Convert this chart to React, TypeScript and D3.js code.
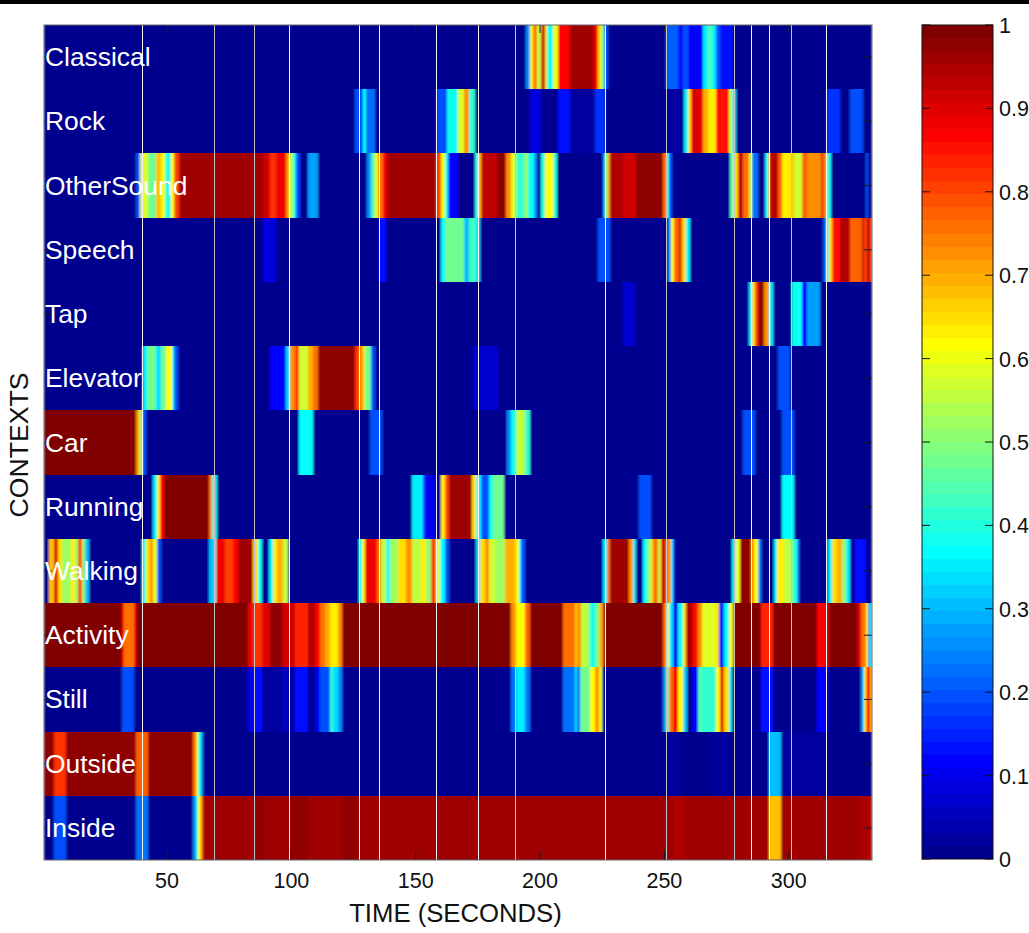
import * as d3 from "d3";

const WIDTH = 1029;
const HEIGHT = 933;

// each row is a step series: [time in seconds, value held until the next entry]
const classical = [[0.5,0],[194.4,.25],[196,.6],[197.1,.75],[198.7,.55],[200.2,.92],[201.8,.65],[202.7,.38],[205.3,.6],[207.2,.87],[212.1,.96],[221.6,.87],[223.4,.65],[224.6,.5],[225.6,.2],[227.2,0],[250.7,.21],[255.4,.13],[257.6,.2],[259.4,.12],[265.7,.35],[267.4,.45],[269,.35],[270.8,.2],[272.5,.13],[277.7,0]];
const rock = [[0.5,0],[125.5,.2],[128.6,.38],[130.2,.22],[133.5,0],[158.6,.2],[162.6,.38],[167,.58],[169.3,.72],[171.4,.42],[173.7,0],[195.8,.09],[200.2,0],[207.3,.13],[212.1,.03],[221.9,.16],[226.2,0],[250.7,.03],[256.4,.03],[257.8,.35],[259.4,.65],[260.7,.9],[265.7,.7],[267.4,.63],[270.8,.85],[275.8,.55],[277.2,.35],[278.8,0],[315.6,.17],[320.5,0],[324.6,.2],[329.7,0]];
const otherSound = [[0.5,0],[37.6,.2],[39.2,.58],[42.2,.48],[45.5,.68],[47.5,.6],[49.2,.4],[51.6,.62],[52.8,.8],[54.6,.965],[88.4,.92],[91.4,.82],[93.8,.88],[97.7,.72],[99.1,.55],[100.7,.38],[101.8,.18],[103.4,0],[106.5,.27],[110.8,0],[130.5,.25],[132.2,.45],[133.5,.6],[135,.75],[136.9,.88],[138.5,.965],[158.3,.8],[160.3,.6],[161.6,.38],[162.9,.12],[167,0],[173.7,.4],[175,.68],[176.4,.93],[182.7,.97],[186.4,.72],[188.4,.58],[190.4,.42],[193.4,.5],[195.1,.38],[197.4,.25],[198.7,0],[200.5,.4],[201.8,.62],[205.1,.42],[206.8,0],[225.2,.25],[226.2,.5],[227.2,.72],[228.2,.95],[233.3,.92],[238.4,.97],[249.6,.75],[250.9,.38],[252,.2],[253,0],[276.4,.45],[277.7,.65],[279.6,.93],[281.5,.75],[283.9,.55],[285.2,.22],[287.5,0],[290.4,.35],[291.5,.6],[292.2,.92],[293.8,.95],[295.5,.77],[297.5,.63],[301.5,.7],[302.2,.57],[305.5,.78],[307.3,.73],[312.9,.92],[313.8,.74],[315.6,.38],[316.9,0],[331,.2],[331.7,0]];
const speech = [[0.5,0],[88.7,.08],[93.8,0],[135.1,.13],[138.2,0],[160.3,.36],[161.7,.47],[169.3,.3],[171.4,.43],[174.4,.33],[176,0],[223.5,.2],[228.3,0],[251.3,.25],[252.7,.62],[254,.78],[256,.9],[257,.65],[258.7,.35],[260.5,0],[313.6,.2],[315,.4],[316.3,.65],[317.6,.85],[320.7,.95],[324.6,.78],[329.4,.93],[330.3,.8],[331.4,.93],[332.6,.8]];
const tap = [[0.5,0],[233.3,.07],[238.2,0],[283.9,.35],[285.2,.65],[286.5,.8],[287.5,.97],[290.2,.72],[292.2,.35],[293.5,0],[301.5,.38],[305.5,.12],[307.5,.27],[312.5,0]];
const elevator = [[0.5,0],[40.2,.35],[41.8,.48],[45.5,.33],[47.5,.48],[49.6,.62],[51.9,.35],[52.8,.2],[54.2,0],[91.4,.12],[97.8,.33],[99.4,.72],[101.4,.82],[103.2,.57],[106.8,.7],[108.8,.75],[110.8,.97],[125.5,.82],[127.2,.72],[128.6,.63],[129.5,.47],[132.2,.2],[133.5,0],[173,.07],[183,0],[295.5,.2],[300.5,0]];
const car = [[0.5,.985],[37.4,.73],[38.8,.55],[39.8,.2],[41.6,0],[103.2,.37],[108.5,0],[131.8,.2],[136.6,0],[186.7,.25],[188.4,.38],[190.2,.55],[193.8,.42],[196,0],[281.7,.2],[286.5,0],[297.5,.2],[302.2,0]];
const running = [[0.5,0],[44.5,.35],[45.9,.63],[47.2,.87],[48.8,.985],[67,.75],[68.2,.38],[70,0],[148.7,.35],[153,.15],[154.3,.1],[158,0],[160.3,.63],[161.7,.8],[163.4,.96],[172.8,.65],[174.1,.37],[176.4,.2],[179.5,.38],[181,.47],[185.5,0],[239.7,.2],[244.6,0],[297.3,.37],[302,0]];
const walking = [[0.5,0],[2.6,.68],[4.6,.9],[6.1,.65],[7.7,.52],[11.4,.63],[12.8,.5],[14,.8],[15.7,.5],[17.1,.3],[18.4,0],[40.1,.4],[41.6,.65],[43.2,.72],[44.5,.58],[46.1,.2],[47.5,0],[67,.3],[68.6,.35],[69.7,.88],[73.3,.8],[76.4,.87],[78.7,.96],[84.7,.65],[86.7,.38],[88,0],[91.1,.35],[92.7,.63],[94.3,.7],[96.5,.55],[98.5,0],[127.2,.38],[128.2,.63],[129.5,.88],[134.5,.75],[136.2,.55],[138,.38],[139.6,.52],[142.9,.65],[145.9,.72],[148.3,.55],[152.3,.63],[154.3,.5],[156.3,.8],[158,.6],[159.6,.37],[161.6,.2],[163.4,0],[174.4,.33],[176,.65],[177.7,.72],[179.3,.57],[181.7,.53],[186,.7],[189.8,.63],[191.5,.37],[192.4,.2],[193.8,0],[225.2,.35],[227,.75],[228.3,.96],[235.9,.72],[237.5,.35],[238.6,0],[241.3,.37],[242.9,.5],[244.6,.65],[245.6,.76],[247.6,.55],[248.7,.9],[250.7,.72],[252.7,.35],[253.4,.15],[254.4,0],[277.2,.37],[278.8,.6],[280.4,.97],[284.8,.72],[286.1,.62],[287.5,.25],[288.8,0],[293.9,.35],[295.2,.63],[298.2,.55],[301.3,.42],[303.2,.25],[304.2,0],[316,.35],[317.6,.65],[319.6,.7],[321.6,.5],[323.2,.35],[324.6,0],[326.6,.13],[331,0]];
const activity = [[0.5,.985],[31.8,.85],[32.5,.76],[36.5,.87],[37.6,.985],[82.7,.88],[84.7,.82],[88,.9],[91.4,.97],[96.3,.91],[98.7,.92],[101.4,.83],[106.5,.95],[109.4,.87],[111.4,.75],[113.5,.7],[115.5,.63],[118.8,.73],[120.2,.985],[188.4,.73],[190.4,.62],[193.8,.77],[195.8,.985],[209.4,.75],[213.9,.66],[214.8,.72],[216.5,.55],[219.2,.5],[220.2,.38],[221.9,.48],[223.6,.7],[225.5,.985],[249.3,.77],[250.7,.62],[252,.35],[253.6,.13],[255.6,.38],[257.6,.65],[258.7,.95],[261.4,.85],[263.6,.72],[265,.58],[270.8,.65],[272.1,.15],[273.8,.37],[275.8,.62],[277.4,.985],[288.8,.83],[293.5,.985],[311.3,.87],[315,.9],[316.3,.985],[327.6,.92],[328.9,.76],[331,.62],[331.7,.2],[332.7,.4]];
const still = [[0.5,0],[31.8,.2],[36.8,0],[82.7,.1],[84.7,.14],[88,.03],[96.3,.05],[98.7,.02],[101.4,.14],[106.5,0],[109.4,.1],[111.4,.2],[115.5,.42],[116.8,.33],[118.8,.25],[120.2,0],[188.4,.22],[190.4,.35],[193.8,.22],[195.8,0],[209.4,.22],[213.9,.35],[214.8,.2],[216.1,.47],[219.9,.62],[221.9,.72],[223.6,.6],[225,0],[249.3,.25],[250.7,.45],[252,.75],[253.3,.87],[255.6,.62],[257.6,.32],[259,0],[261.1,.12],[263.6,.45],[265,.42],[270.8,.62],[272.4,.9],[273.8,.65],[275.8,.35],[277.2,0],[288.8,.13],[293.5,0],[311.3,.12],[315,.07],[316.3,0],[329,.28],[330.3,.62],[331.2,.85],[332.6,.7]];
const outside = [[0.5,.97],[4.6,.82],[9.4,.97],[37.4,.77],[42.2,.97],[60.6,.75],[61.6,.63],[62.6,.4],[63.7,.25],[64.6,0],[250.7,.02],[256,.01],[270,.02],[276,0],[292.2,.31],[296.9,.02],[315,.01]];
const inside = [[0.5,0],[4.6,.2],[9.3,0],[37.4,.22],[42.5,0],[60.6,.25],[61.6,.4],[62.6,.63],[63.7,.77],[64.6,.955],[86,.975],[89,.965],[99.4,.975],[106.7,.965],[120.7,.975],[126.3,.965],[254,.95],[258,.965],[292.2,.675],[296.9,.965],[329,.95]];

const contexts = ["Classical","Rock","OtherSound","Speech","Tap","Elevator","Car","Running","Walking","Activity","Still","Outside","Inside"];
const rows = [classical,rock,otherSound,speech,tap,elevator,car,running,walking,activity,still,outside,inside];

// event boundaries drawn across the whole plot
const boundaries = [40.1,68.9,84.8,99.1,127.2,135.1,158.2,175,190,226.2,250.8,278.1,284.7,291.9,301.1,314.9];
const boundaryDim = [68.9,84.8,190,250.8,278.1,301.1];

const timeTicks = [50,100,150,200,250,300];
const barTicks = [0,.1,.2,.3,.4,.5,.6,.7,.8,.9,1];
const barLabels = ["0","0.1","0.2","0.3","0.4","0.5","0.6","0.7","0.8","0.9","1"];

const FONT = "'Liberation Sans', Arial, sans-serif";
const T_MIN = 0.5;
const T_MAX = 333.5;

// MATLAB jet(64)
function jet(i: number) {
  const v = i / 64;
  const c = (a: number) => Math.round(Math.max(0, Math.min(1, a)) * 255);
  const r = c(Math.min(4 * v - 1.5, -4 * v + 4.5));
  const g = c(Math.min(4 * v - 0.5, -4 * v + 3.5));
  const b = c(Math.min(4 * v + 0.5, -4 * v + 2.5));
  return `rgb(${r},${g},${b})`;
}

export default function App() {
  const x = d3.scaleLinear().domain([T_MIN, T_MAX]).range([44, 872]);
  const y = d3.scaleBand<string>().domain(contexts).range([25, 860]);
  const barY = d3.scaleLinear().domain([0, 1]).range([859, 25]);
  const color = d3.scaleQuantize<string>().domain([0, 1]).range(d3.range(1, 65).map(jet));
  const levels = d3.range(0, 64).map((i) => i / 64);
  const bh = y.bandwidth();

  return (
    <svg
      width={WIDTH}
      height={HEIGHT}
      style={{ position: "absolute", left: 0, top: 0, background: "#fff" }}
      fontFamily={FONT}
    >
      <defs>
        {/* the source is a resampled bitmap, its colour steps are soft */}
        <filter id="soft" x="0" y="0" width="1" height="1">
          <feGaussianBlur stdDeviation="0.8 0.3" />
        </filter>
        <clipPath id="plot">
          <rect x={44} y={25} width={828} height={835} />
        </clipPath>
      </defs>

      <rect x={0} y={0} width={WIDTH} height={4} fill="#000" />

      <g clipPath="url(#plot)">
        <g shapeRendering="crispEdges" filter="url(#soft)">
          {rows.map((row, r) =>
            row.map(([t, v], i) => {
              const next = i + 1 < row.length ? row[i + 1][0] : T_MAX;
              return (
                <rect
                  key={`${r}-${i}`}
                  x={x(t)}
                  y={y(contexts[r])}
                  width={x(next) - x(t)}
                  height={bh}
                  fill={color(v)}
                />
              );
            })
          )}
        </g>
      </g>

      {boundaries.map((t) => (
        <line
          key={t}
          x1={Math.round(x(t)) + 0.5}
          x2={Math.round(x(t)) + 0.5}
          y1={25}
          y2={860}
          stroke={boundaryDim.includes(t) ? "#c4c4c4" : "#f4f4f4"}
          strokeWidth={1}
        />
      ))}

      {/* inward ticks */}
      {timeTicks.map((t) => (
        <g key={t} stroke="#1a1a2a" strokeWidth={1}>
          <line x1={x(t)} x2={x(t)} y1={860} y2={851} />
          <line x1={x(t)} x2={x(t)} y1={25} y2={33} />
        </g>
      ))}
      {contexts.map((c) => {
        const cy = y(c)! + bh / 2;
        return (
          <g key={c} stroke="#1a1a2a" strokeWidth={1}>
            <line x1={44} x2={52} y1={cy} y2={cy} />
            <line x1={872} x2={864} y1={cy} y2={cy} />
          </g>
        );
      })}
      <rect x={44} y={25} width={828} height={835} fill="none" stroke="#666" strokeWidth={1} />

      {contexts.map((c) => (
        <text key={c} x={45} y={y(c)! + bh / 2 + 9} fill="#fff" fontSize={26.4}>
          {c}
        </text>
      ))}

      {timeTicks.map((t) => (
        <text key={t} x={x(t)} y={888} textAnchor="middle" fontSize={21.5} fill="#111">
          {t}
        </text>
      ))}
      <text x={455.5} y={922} textAnchor="middle" fontSize={25.7} fill="#111">
        TIME (SECONDS)
      </text>
      <text
        transform="translate(28,445) rotate(-90)"
        textAnchor="middle"
        fontSize={26.6}
        fill="#111"
      >
        CONTEXTS
      </text>

      {/* colour bar */}
      <g shapeRendering="crispEdges">
        {levels.map((v) => (
          <rect
            key={v}
            x={922}
            y={barY(v + 1 / 64)}
            width={71}
            height={barY(v) - barY(v + 1 / 64)}
            fill={color(v + 1 / 128)}
          />
        ))}
      </g>
      <rect x={922} y={25} width={71} height={834} fill="none" stroke="#111" strokeWidth={1} />
      {barTicks.map((v, i) => (
        <g key={v}>
          <line x1={922} x2={930} y1={barY(v)} y2={barY(v)} stroke="#111" />
          <line x1={993} x2={985} y1={barY(v)} y2={barY(v)} stroke="#111" />
          <text x={999} y={barY(v) + 8} fontSize={21.5} fill="#111">
            {barLabels[i]}
          </text>
        </g>
      ))}
    </svg>
  );
}
